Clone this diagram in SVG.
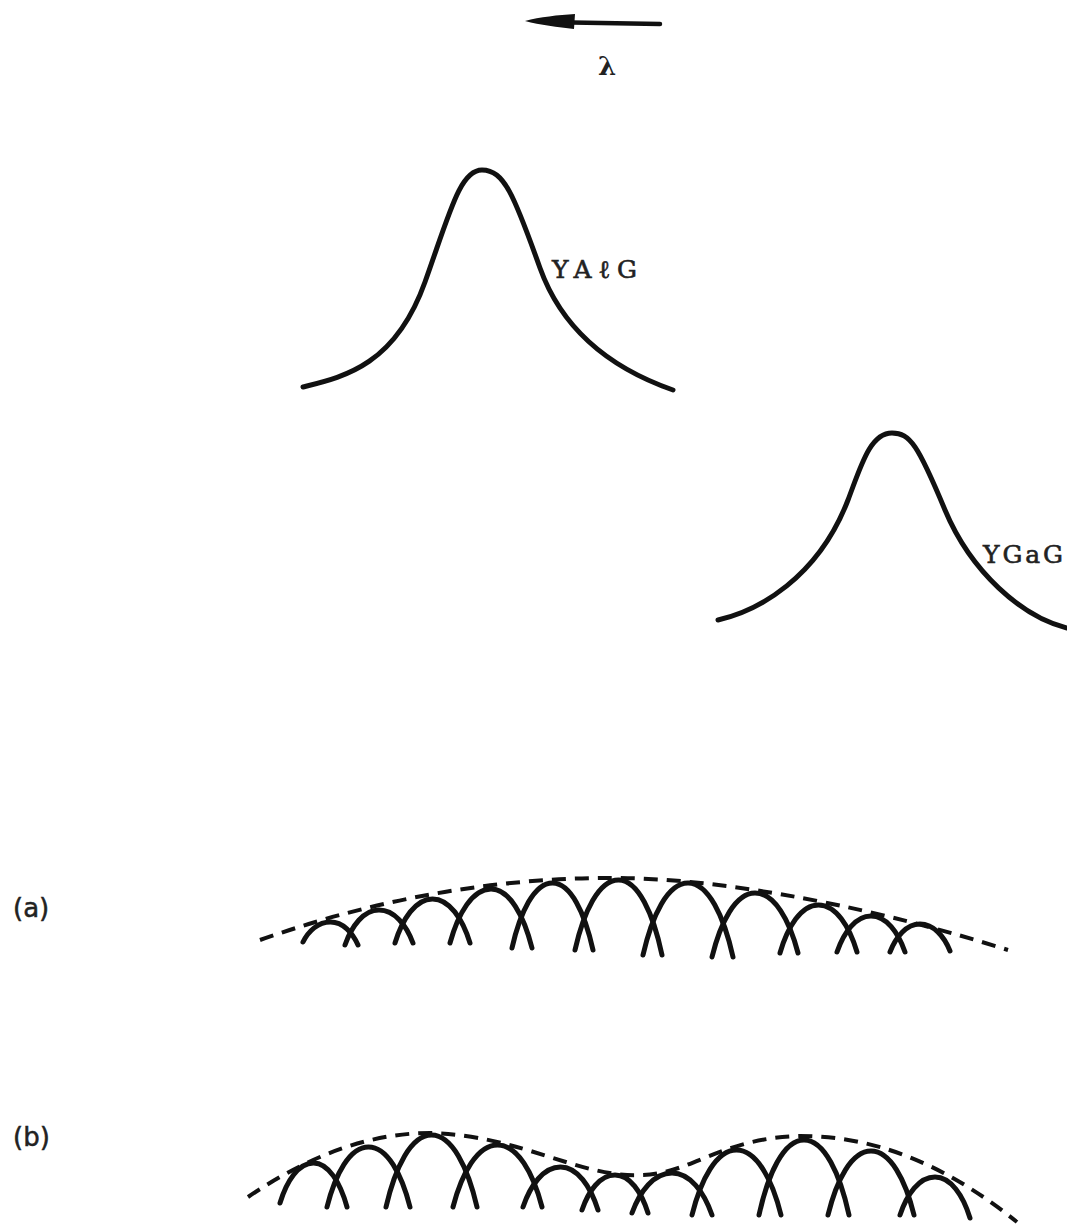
<svg xmlns="http://www.w3.org/2000/svg" width="1067" height="1225" viewBox="0 0 1067 1225">
<style>
.curve{fill:none;stroke:#111;stroke-width:5;stroke-linecap:round;stroke-linejoin:round}
.arch{fill:none;stroke:#111;stroke-width:5;stroke-linecap:round}
.env{fill:none;stroke:#111;stroke-width:4;stroke-dasharray:14 9;stroke-linecap:butt}
.lbl{font-family:"DejaVu Serif","Liberation Serif",serif;font-size:25px;fill:#222;stroke:#222;stroke-width:0.6}
.tag{font-family:"DejaVu Sans","Liberation Sans",sans-serif;font-size:26px;fill:#222;stroke:#222;stroke-width:0.5}
</style>
<rect width="1067" height="1225" fill="#fff"/>
<g id="direction-arrow">
<line x1="572" y1="22.5" x2="660" y2="24" stroke="#111" stroke-width="4.5" stroke-linecap="round"/>
<path d="M525,21 C540,17 558,15 575,14 L574,29 C558,27 540,25 525,21 Z" fill="#111"/>
<text x="607" y="75" text-anchor="middle" style="font-family:'DejaVu Serif','Liberation Serif',serif;font-size:26px;font-weight:bold;fill:#222">λ</text>
</g>
<g id="yalg">
<path class="curve" d="M303,387 C343,377 395,366 425,282 C450,212 460,170 482,170 C504,170 514,195 540,268 C568,346 633,376 673,390"/>
<text class="lbl" x="552" y="278" textLength="85" lengthAdjust="spacing">YAℓG</text>
</g>
<g id="ygag">
<path class="curve" d="M718,620 C758,611 818,578 848,500 C861,466 870,433 892,433 C910,433 918,445 945,510 C971,572 1022,617 1067,628"/>
<text class="lbl" x="983" y="563" textLength="80" lengthAdjust="spacing">YGaG</text>
</g>
<g id="row-a">
<text class="tag" x="13" y="917">(a)</text>
<path class="env" d="M260,940 Q430,880 600,878 C700,876 850,900 1008,950"/>
<path class="arch" d="M303,942 C308.5,931 318.1,922 330.5,922 C342.9,922 352.5,932.4 358,945"/>
<path class="arch" d="M345,945 C351.8,925.7 363.7,910 379,910 C394.3,910 406.2,924.8 413,943"/>
<path class="arch" d="M395,943 C402.5,918.8 415.6,899 432.5,899 C449.4,899 462.5,918.8 470,943"/>
<path class="arch" d="M450,943 C458.2,913.3 472.5,889 491,889 C509.5,889 523.8,915.5 532,948"/>
<path class="arch" d="M512,948 C520.1,912.2 534.3,883 552.5,883 C570.7,883 584.9,913.1 593,950"/>
<path class="arch" d="M575,950 C583.7,911.5 598.9,880 618.5,880 C638.1,880 653.3,913.7 662,955"/>
<path class="arch" d="M643,955 C652,915.4 667.7,883 688,883 C708.3,883 724,916.3 733,957"/>
<path class="arch" d="M712,957 C720.6,921.8 735.6,893 755,893 C774.4,893 789.4,920 798,953"/>
<path class="arch" d="M780,953 C787.7,926.6 801.2,905 818.5,905 C835.8,905 849.3,926.1 857,952"/>
<path class="arch" d="M837,952 C843.8,932.2 855.7,916 871,916 C886.3,916 898.2,932.2 905,952"/>
<path class="arch" d="M890,952 C896,936.6 906.5,924 920,924 C933.5,924 944,936.1 950,951"/>
</g>
<g id="row-b">
<text class="tag" x="13" y="1146">(b)</text>
<path class="env" d="M248,1197 C310,1155 370,1133 430,1133 C520,1135 580,1178 640,1175 C690,1175 720,1138 800,1136 C870,1136 940,1160 1017,1222"/>
<path class="arch" d="M280,1203 C286.7,1181 298.4,1163 313.5,1163 C328.6,1163 340.3,1182.8 347,1207"/>
<path class="arch" d="M327,1207 C335.3,1174 349.8,1147 368.5,1147 C387.2,1147 401.7,1174 410,1207"/>
<path class="arch" d="M386,1207 C395.1,1167.4 411,1135 431.5,1135 C452,1135 467.9,1167.4 477,1207"/>
<path class="arch" d="M453,1207 C461.9,1172.9 477.5,1145 497.5,1145 C517.5,1145 533.1,1172.9 542,1207"/>
<path class="arch" d="M523,1207 C530.5,1185 543.6,1167 560.5,1167 C577.4,1167 590.5,1186.3 598,1210"/>
<path class="arch" d="M582,1210 C588.6,1190.7 600.1,1175 615,1175 C629.9,1175 641.4,1192.1 648,1213"/>
<path class="arch" d="M632,1213 C640,1191 654,1173 672,1173 C690,1173 704,1191.9 712,1215"/>
<path class="arch" d="M692,1215 C700.9,1179.2 716.5,1150 736.5,1150 C756.5,1150 772.1,1179.2 781,1215"/>
<path class="arch" d="M759,1215 C768,1173.7 783.7,1140 804,1140 C824.3,1140 840,1173.7 849,1215"/>
<path class="arch" d="M828,1215 C836.6,1179.8 851.6,1151 871,1151 C890.4,1151 905.4,1179.8 914,1215"/>
<path class="arch" d="M900,1215 C907,1194.1 919.2,1177 935,1177 C950.8,1177 963,1195.4 970,1218"/>
</g>
</svg>
